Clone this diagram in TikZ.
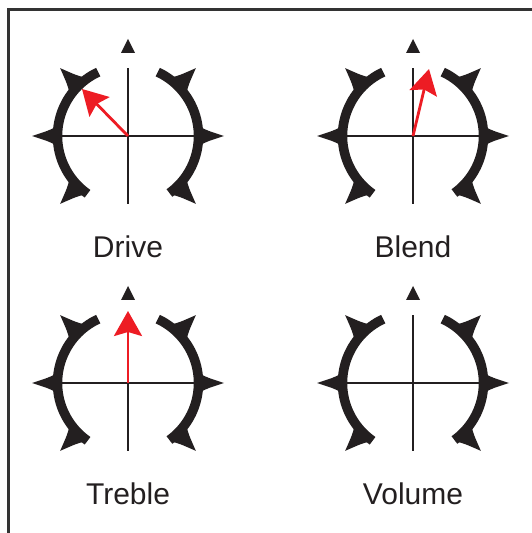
\documentclass[tikz,border=0pt]{standalone}
\usepackage{fontspec}
\setmainfont{Liberation Sans}
\usepackage{xcolor}
\usepackage{tikz}
\usetikzlibrary{arrows.meta}
\definecolor{ink}{HTML}{231F20}
\definecolor{frame}{HTML}{333333}
\definecolor{needle}{HTML}{ED1C24}
\tikzset{
  ring/.style={draw=ink, line width=9.5pt},
  spur/.style={fill=ink},
  cross/.style={draw=ink, line width=2.7pt},
  needle/.style={draw=needle, line width=2.8pt, -{Stealth[length=25pt,width=28pt,inset=4pt]}},
  lab/.style={text=ink, font=\fontsize{30}{36}\selectfont, anchor=base, inner sep=0pt},
}

\begin{document}
\begin{tikzpicture}[x=1pt,y=1pt]
  \useasboundingbox (0,0) rectangle (532,533);
  % frame, only top and left visible
  \draw[frame, line width=3pt, line join=miter] (8,-5) -- (8,523) -- (540,523);
  % the four knobs
  \foreach \nm/\cx/\cy/\lab in {drive/128/397/Drive, blend/413/397/Blend,
                                treble/128/150/Treble, volume/413/150/Volume} {
    \coordinate (\nm) at (\cx,\cy);
    \begin{scope}[shift={(\nm)}]
      \draw[ring] (115:70.5) arc[start angle=115, end angle=235, radius=70.5];
      \draw[ring] (-54:70.5) arc[start angle=-54, end angle=65, radius=70.5];
      \foreach \a/\w in {0/7.5,180/7.5,45/9,135/9,225/9,-45/9}
        \fill[spur] ({\a+\w}:72) .. controls ({\a+\w*0.5}:80) .. (\a:96)
                    .. controls ({\a-\w*0.5}:80) .. ({\a-\w}:72) -- cycle;
      \fill[spur] (-7,83) -- (0,97) -- (7,83) -- cycle;
      \draw[cross] (-68,0) -- (68,0);
      \draw[cross] (0,-68) -- (0,68);
      \node[lab] (\nm-l) at (0,-122) {\lab};
    \end{scope}
  }
  % pointer positions
  \coordinate (drive-tip) at ([shift={(-46,47)}]drive);
  \coordinate (blend-tip) at ([shift={(16,67)}]blend);
  \coordinate (treble-tip) at ([shift={(0,72)}]treble);
  \draw[needle] (drive) -- (drive-tip);
  \draw[needle] (blend) -- (blend-tip);
  \draw[needle] (treble) -- (treble-tip);
\end{tikzpicture}
\end{document}
